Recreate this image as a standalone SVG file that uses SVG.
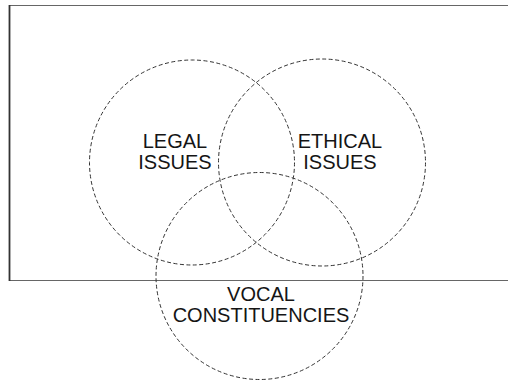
<svg xmlns="http://www.w3.org/2000/svg" width="508" height="383" viewBox="0 0 508 383">
  <style>
    .frame { fill: none; stroke: #666; stroke-width: 1.2; }
    .frame-left { fill: none; stroke: #333; stroke-width: 1.8; }
    .set { fill: none; stroke: #333; stroke-width: 1; stroke-dasharray: 4 2.5; }
    .label { font-family: "Liberation Sans", Arial, sans-serif; font-size: 20px; fill: #151515; text-anchor: middle; }
  </style>
  <rect width="508" height="383" fill="#fff"/>

  <!-- open frame: top, left and bottom edges -->
  <path class="frame" d="M508 5.5 H9.5 M9.5 280.5 H508"/>
  <path class="frame-left" d="M9.5 5 V281"/>

  <g id="legal-issues">
    <circle class="set" cx="192" cy="162.5" r="102.5"/>
    <text class="label" x="175" y="148">LEGAL</text>
    <text class="label" x="175" y="169">ISSUES</text>
  </g>

  <g id="ethical-issues">
    <circle class="set" cx="322" cy="162.5" r="103.5"/>
    <text class="label" x="340" y="148">ETHICAL</text>
    <text class="label" x="340" y="169">ISSUES</text>
  </g>

  <g id="vocal-constituencies">
    <circle class="set" cx="259.5" cy="276" r="103.5"/>
    <text class="label" x="261" y="300.5">VOCAL</text>
    <text class="label" x="261" y="322">CONSTITUENCIES</text>
  </g>
</svg>
